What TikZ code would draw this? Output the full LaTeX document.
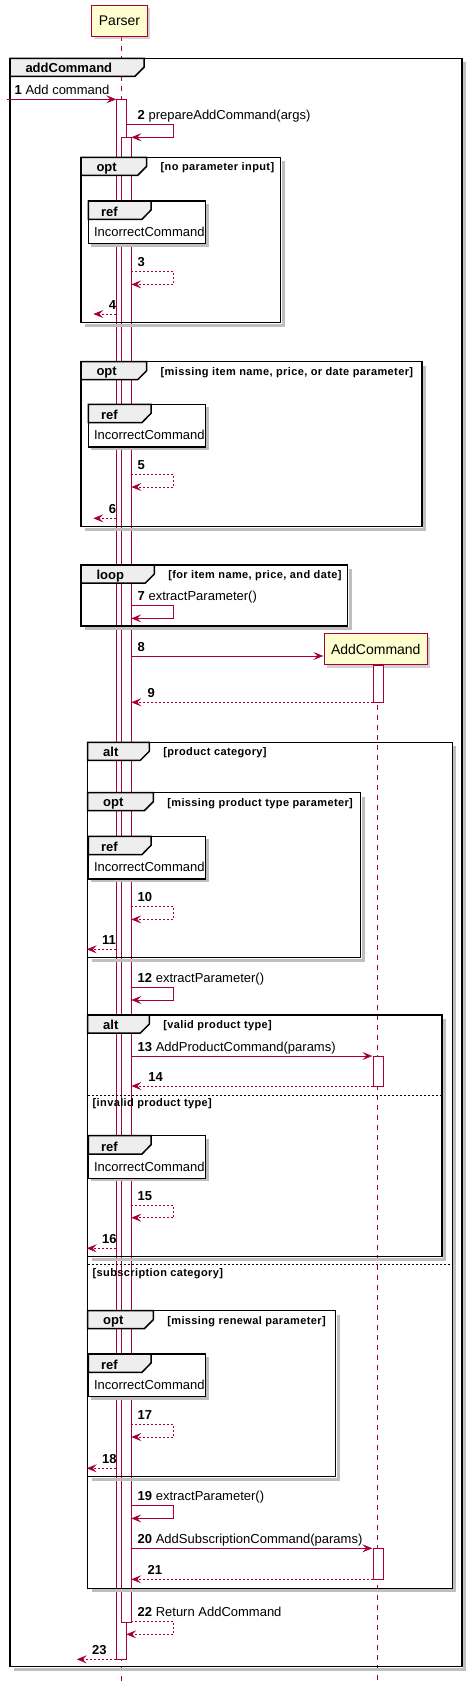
\documentclass[tikz,border=0pt]{standalone}
\usepackage{fontspec}
\setmainfont{Liberation Sans}
\usetikzlibrary{arrows.meta,shadows}
\definecolor{umlred}{HTML}{A80036}
\definecolor{umlcream}{HTML}{FEFECE}
\definecolor{umltab}{HTML}{EEEEEE}
\begin{document}
\begin{tikzpicture}[x=1pt, y=-1pt,
  every node/.style={inner sep=0pt, outer sep=0pt},
  lifeline/.style={umlred, line width=0.8pt, dash pattern=on 5pt off 5pt},
  actor/.style={draw=umlred, fill=umlcream, line width=1pt, minimum height=30.7pt,
    font=\fontsize{14}{16}\selectfont, drop shadow={fill=black!35, shadow xshift=3pt, shadow yshift=-3pt}},
  actbar/.style={draw=umlred, fill=white, line width=0.8pt},
  msg/.style={umlred, line width=0.8pt, -{Stealth[length=10pt, width=8pt, inset=4pt]}},
  ret/.style={msg, dash pattern=on 2pt off 2pt},
  lbl/.style={anchor=base west, font=\fontsize{13}{15}\selectfont},
  num/.style={anchor=base west, font=\bfseries\fontsize{13}{15}\selectfont},
  frm/.style={black, line width=1.5pt},
  tab/.style={black, line width=1.5pt, fill=umltab},
  tabtxt/.style={anchor=base west, font=\bfseries\fontsize{13}{15}\selectfont},
  guard/.style={anchor=base west, font=\bfseries\fontsize{11}{13}\selectfont\addfontfeature{LetterSpace=3.5}},
  shade/.style={black!25, line width=3pt},
  elseline/.style={black, line width=0.8pt, dash pattern=on 2pt off 2pt},
]
\useasboundingbox (0,0) rectangle (474,1690);

% lifelines
\draw[lifeline] (121.3,36) -- (121.3,1683.3);
\draw[lifeline] (377.7,665) -- (377.7,1683.3);

% participants
\node[actor, minimum width=55.6pt] (parser) at (119.5,20.7) {Parser};
\node[actor, minimum width=103pt] (addcmd) at (375.8,649.2) {AddCommand};

% activations
\draw[actbar] (116.3,99.3) rectangle (126.3,1659.3);
\draw[actbar] (121.3,137.3) rectangle (131.3,1622.3);
\foreach \ya/\yb in {665/702.3, 1056/1086.7, 1548.3/1579.3}
  \draw[actbar] (373.3,\ya) rectangle (383.3,\yb);

% frames
\foreach \xa/\ya/\xb/\yb/\tr/\nm/\gd [count=\k] in {
  10/58.3/462/1666.7/144/addCommand/{},
  81/157.3/280.7/322.7/146.7/opt/{[no parameter input]},
  81/361.7/422/526.7/146.7/opt/{[missing item name, price, or date parameter]},
  81/565/347.7/626/154.3/loop/{[for item name, price, and date]},
  87.7/742.3/452.3/1588.3/149.3/alt/{[product category]},
  87.7/792.7/360.7/957.7/153.3/opt/{[missing product type parameter]},
  87.7/1015/442/1256.7/149.3/alt/{[valid product type]},
  87.7/1310.7/335.7/1476.7/153.3/opt/{[missing renewal parameter]}}
{
  \draw[shade] (\xb+2.5,\ya+4) -- (\xb+2.5,\yb+2.5) -- (\xa+4,\yb+2.5);
  \draw[frm] (\xa,\ya) rectangle (\xb,\yb);
  \draw[tab] (\xa,\ya) -- (\tr,\ya) -- (\tr,\ya+9) -- (\tr-9,\ya+18) -- (\xa,\ya+18) -- cycle;
  \node[tabtxt] (tab\k) at (\xa+15.5,\ya+14) {\nm};
  \node[guard] (guard\k) at (\tr+14,\ya+13.5) {\gd};
}

% else separators
\draw[elseline] (87.7,1095) -- (442,1095);
\node[guard] (else1) at (92.7,1106.7) {[invalid product type]};
\draw[elseline] (87.7,1264.3) -- (452.3,1264.3);
\node[guard] (else2) at (92.7,1276) {[subscription category]};

% ref boxes
\foreach \ya [count=\k] in {201, 404.3, 836.3, 1135.7, 1354} {
  \fill[black!25] (91.3,\ya+3) rectangle (208.7,\ya+45.7);
  \draw[frm, fill=white] (88.3,\ya) rectangle (205.7,\ya+42.7);
  \draw[tab] (88.3,\ya) -- (151,\ya) -- (151,\ya+9) -- (142,\ya+18.3) -- (88.3,\ya+18.3) -- cycle;
  \node[tabtxt] (ref\k) at (101,\ya+15.5) {ref};
  \node[lbl] (inc\k) at (94,\ya+35.5) {IncorrectCommand};
}

% messages
\draw[msg] (6.7,99.3) -- (116.3,99.3);
\node[lbl] (m1) at (14.7,94.3) {\textbf{1} Add command};
\draw[msg] (126.3,124.7) -- (173.7,124.7) -- (173.7,137.3) -- (131.3,137.3);
\node[lbl] (m2) at (137.7,119.7) {\textbf{2} prepareAddCommand(args)};

\foreach \ya/\st/\n/\t in {271.7/ret/3/{}, 474.3/ret/5/{}, 605.7/msg/7/extractParameter(),
  906.7/ret/10/{}, 987.3/msg/12/extractParameter(), 1205/ret/15/{}, 1424.3/ret/17/{},
  1505.7/msg/19/extractParameter()}
{
  \draw[\st] (131.3,\ya) -- (173.7,\ya) -- (173.7,\ya+12.7) -- (131.3,\ya+12.7);
  \node[lbl] (m\n) at (137.7,\ya-5) {\textbf{\n} \t};
}

\foreach \ya/\xe/\n in {314/93.3/4, 518.3/93.3/6, 949.3/86.7/11, 1248.3/86.7/16,
  1468.3/86.7/18, 1659.3/76.7/23}
{
  \draw[ret] (116.3,\ya) -- (\xe,\ya);
  \node[num] (m\n) at (\xe+15.5,\ya-5) {\n};
}

\draw[msg] (131.3,656) -- (323.3,656);
\node[num] (m8) at (137.7,651) {8};
\draw[ret] (373.3,702.3) -- (131.3,702.3);
\node[num] (m9) at (147.7,697) {9};
\draw[msg] (131.3,1056) -- (372.3,1056);
\node[lbl] (m13) at (137.7,1051) {\textbf{13} AddProductCommand(params)};
\draw[ret] (373.3,1086) -- (131.3,1086);
\node[num] (m14) at (148.3,1081) {14};
\draw[msg] (131.3,1548.3) -- (372.3,1548.3);
\node[lbl] (m20) at (137.7,1543.3) {\textbf{20} AddSubscriptionCommand(params)};
\draw[ret] (373.3,1579.3) -- (131.3,1579.3);
\node[num] (m21) at (147.7,1574.3) {21};
\draw[ret] (131.3,1621.7) -- (173.7,1621.7) -- (173.7,1634.3) -- (126.3,1634.3);
\node[lbl] (m22) at (137.7,1616.7) {\textbf{22} Return AddCommand};
\end{tikzpicture}
\end{document}
